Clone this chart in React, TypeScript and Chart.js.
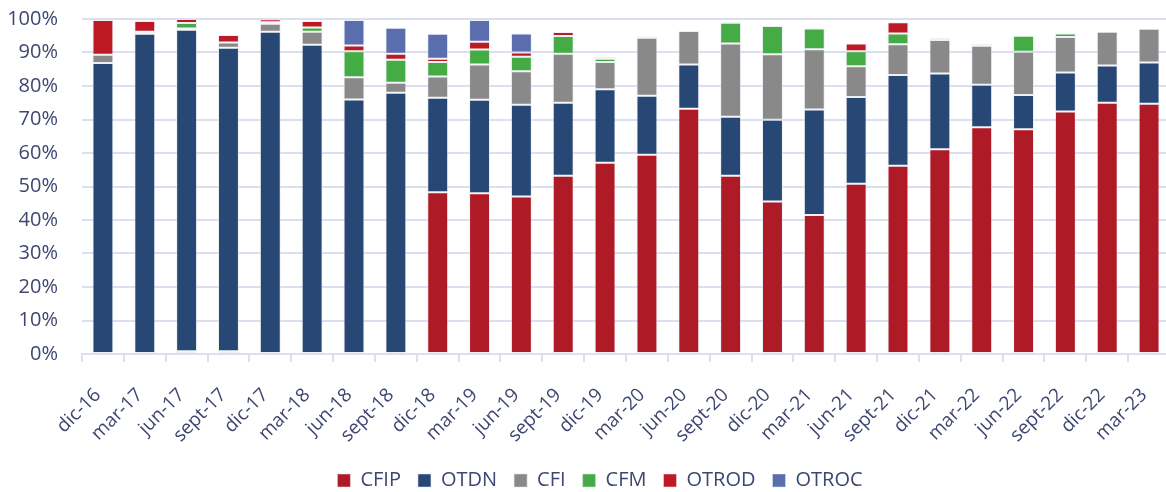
import React, { useEffect, useRef } from "react";
import { Chart, registerables } from "chart.js";

Chart.register(...registerables);

const categories = [
  "dic-16", "mar-17", "jun-17", "sept-17", "dic-17", "mar-18", "jun-18", "sept-18",
  "dic-18", "mar-19", "jun-19", "sept-19", "dic-19", "mar-20", "jun-20", "sept-20",
  "dic-20", "mar-21", "jun-21", "sept-21", "dic-21", "mar-22", "jun-22", "sept-22",
  "dic-22", "mar-23",
];

const seriesNames = ["CFIP", "OTDN", "CFI", "CFM", "OTROD", "OTROC"];

const cfip = [0, 0, 0.8, 0.8, 0, 0, 0, 0, 48.3, 48.0, 47.0, 53.2, 57.1, 59.5, 73.2, 53.2, 45.5, 41.5, 50.8, 56.2, 61.1, 67.7, 67.1, 72.4, 75.0, 74.7];
const otdn = [86.9, 95.6, 96.0, 90.6, 96.2, 92.3, 76.0, 78.0, 28.2, 27.9, 27.4, 21.8, 21.9, 17.6, 13.2, 17.6, 24.4, 31.5, 25.9, 27.1, 22.6, 12.7, 10.2, 11.6, 11.1, 12.3];
const cfi = [2.4, 0.6, 0.4, 1.6, 2.4, 3.9, 6.6, 3.0, 6.3, 10.5, 10.0, 14.6, 8.2, 17.3, 10.0, 21.9, 19.6, 18.0, 9.2, 9.2, 10.0, 11.6, 12.9, 10.6, 10.1, 10.1];
const cfm = [0, 0, 1.6, 0, 0.4, 1.3, 7.8, 6.8, 4.4, 4.5, 4.3, 5.3, 0.9, 0.3, 0, 6.2, 8.4, 6.2, 4.5, 3.2, 0, 0.6, 4.8, 1.1, 0, 0];
const otrod = [10.4, 3.2, 1.2, 2.2, 0.9, 1.9, 1.7, 1.8, 0.9, 2.3, 1.3, 1.2, 0.6, 0.3, 0, 0.2, 0, 0.3, 2.3, 3.3, 0.6, 0, 0, 0, 0, 0];
const otroc = [0, 0, 0, 0, 0, 0, 7.6, 7.8, 7.5, 6.5, 5.7, 0, 0, 0, 0, 0, 0, 0, 0, 0, 0, 0, 0, 0, 0, 0];

const yTicks = [0, 10, 20, 30, 40, 50, 60, 70, 80, 90, 100];

const seriesValues = [cfip, otdn, cfi, cfm, otrod, otroc];
const seriesColors = ["#AE1A25", "#274775", "#898989", "#45AC45", "#BE1A25", "#5A6DAD"];

const TEXT = "#3e4671";
const GRID = "#dcdff0";
const FONT = "'Open Sans', 'Noto Sans', sans-serif";

export default function App() {
  const ref = useRef<HTMLCanvasElement | null>(null);

  useEffect(() => {
    document.documentElement.style.overflow = "hidden";
    document.body.style.overflow = "hidden";
    const shiftLegend = {
      id: "shiftLegend",
      afterLayout(chart: any) {
        const lg = chart.legend;
        if (!lg) return;
        lg.left += 15;
        lg.right += 15;
        lg.top += 8.5;
        lg.bottom += 8.5;
      },
    };
    const chart = new Chart(ref.current as HTMLCanvasElement, {
      type: "bar",
      data: {
        labels: categories,
        datasets: seriesNames.map((name, i) => ({
          label: name,
          data: seriesValues[i],
          backgroundColor: seriesColors[i],
          borderColor: "rgba(225,228,236,0.55)",
          borderWidth: 1,
          borderSkipped: false,
          barPercentage: 0.5,
          categoryPercentage: 1,
        })),
      },
      plugins: [shiftLegend],
      options: {
        animation: false,
        responsive: true,
        maintainAspectRatio: false,
        layout: { padding: { top: 19, right: 2, left: 0, bottom: 0 } },
        plugins: {
          tooltip: { enabled: false },
          title: { display: false },
          legend: {
            position: "bottom",
            labels: {
              boxWidth: 13,
              boxHeight: 13,
              padding: 17,
              color: TEXT,
              font: { family: FONT, size: 20 },
            },
          },
        },
        scales: {
          x: {
            stacked: true,
            afterFit(scale: any) {
              scale.height = 91;
              scale.paddingLeft = 0;
              scale.paddingRight = 0;
            },
            grid: {
              display: true,
              drawOnChartArea: false,
              drawTicks: true,
              tickLength: 8,
              color: GRID,
              lineWidth: 2,
              offset: true,
            },
            border: { display: true, color: GRID, width: 2 },
            ticks: {
              autoSkip: false,
              minRotation: 45,
              maxRotation: 45,
              color: TEXT,
              font: { family: FONT, size: 19 },
              padding: 22,
              labelOffset: -5,
            },
          },
          y: {
            stacked: true,
            min: 0,
            max: 100,
            afterFit(scale: any) {
              scale.width = 82;
              scale.paddingTop = 0;
              scale.paddingBottom = 0;
            },
            afterBuildTicks(scale: any) {
              scale.ticks = yTicks.map((v) => ({ value: v }));
            },
            grid: { color: GRID, lineWidth: 2, drawTicks: false, tickLength: 0 },
            border: { display: false },
            ticks: {
              padding: 24,
              color: TEXT,
              font: { family: FONT, size: 20 },
              callback: (v: any) => `${v}%`,
            },
          },
        },
      },
    });
    return () => chart.destroy();
  }, []);

  return (
    <div style={{ position: "fixed", left: 0, top: 0, width: 1172, height: 492 }}>
      <canvas ref={ref} />
    </div>
  );
}
